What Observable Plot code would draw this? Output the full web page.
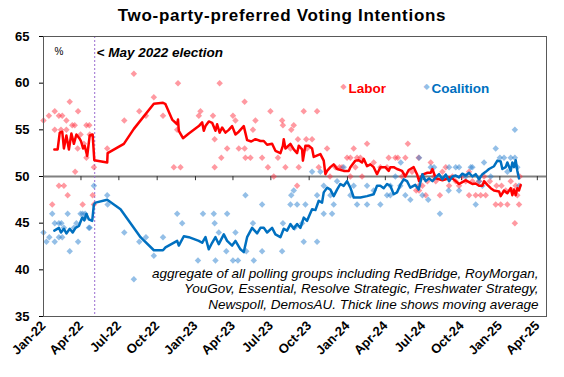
<!DOCTYPE html>
<html><head><meta charset="utf-8">
<script src="https://cdn.jsdelivr.net/npm/d3@7"></script>
<script src="https://cdn.jsdelivr.net/npm/@observablehq/plot@0.6"></script>
<style>
body{margin:0;background:#fff;font-family:Arial,"Liberation Sans",sans-serif;}
#title{height:30px;line-height:32px;text-align:center;font-weight:bold;font-size:17px;color:#000;letter-spacing:0.7px;}
svg{display:block}
</style></head><body>
<div id="title">Two-party-preferred Voting Intentions</div>
<div id="chart"></div>
<script>
const titleText = "Two-party-preferred Voting Intentions";
const seriesNames = ["Labor", "Coalition"];
const electionDate = "2022-05-04";
const electionLabel = "< May 2022 election";
const unitLabel = "%";
const noteText = "aggregate of all polling groups including RedBridge, RoyMorgan,\nYouGov, Essential, Resolve Strategic, Freshwater Strategy,\nNewspoll, DemosAU. Thick line shows moving average";
const xDomain = ["2022-01-01", "2025-04-23"];
const xTickDates = ["2022-01-01","2022-04-01","2022-07-01","2022-10-01","2023-01-01","2023-04-01","2023-07-01","2023-10-01","2024-01-01","2024-04-01","2024-07-01","2024-10-01","2025-01-01","2025-04-01"];
const yTicks = [35, 40, 45, 50, 55, 60, 65];

const laborAvg = [
["2022-01-27",52.9],["2022-02-04",52.9],["2022-02-09",54.7],["2022-02-15",54.8],["2022-02-19",53.0],["2022-02-25",54.4],["2022-03-03",52.9],["2022-03-09",54.6],["2022-03-15",53.5],["2022-03-21",54.5],["2022-03-28",54.1],["2022-04-01",53.8],["2022-04-06",53.0],["2022-04-10",53.3],["2022-04-16",52.2],["2022-04-22",54.4],["2022-04-29",54.5],["2022-05-03",51.75],["2022-06-03",51.5],["2022-06-04",52.5],["2022-07-13",53.5],["2022-08-06",55.1],["2022-09-23",57.8],["2022-10-15",57.9],["2022-10-21",57.75],["2022-11-06",56.1],["2022-11-18",55.6],["2022-11-20",56.1],["2022-11-22",54.9],["2022-12-02",54.1],["2022-12-16",54.6],["2023-01-09",55.4],["2023-01-17",55.8],["2023-01-21",54.9],["2023-01-25",55.4],["2023-02-02",55.9],["2023-02-10",55.75],["2023-02-18",54.9],["2023-02-22",55.6],["2023-02-28",54.7],["2023-03-06",55.25],["2023-03-14",54.7],["2023-03-22",55.0],["2023-03-30",55.4],["2023-04-07",54.5],["2023-04-15",54.8],["2023-04-27",55.4],["2023-05-05",53.9],["2023-05-15",53.75],["2023-05-25",54.0],["2023-06-06",53.8],["2023-06-14",53.8],["2023-06-22",53.4],["2023-07-04",53.5],["2023-07-12",52.75],["2023-07-24",52.5],["2023-07-30",53.3],["2023-08-01",54.0],["2023-08-05",53.0],["2023-08-17",53.5],["2023-08-25",52.9],["2023-09-02",52.5],["2023-09-06",53.3],["2023-09-14",52.9],["2023-09-16",51.7],["2023-09-22",53.3],["2023-09-30",53.3],["2023-10-08",53.0],["2023-10-12",52.1],["2023-10-28",52.4],["2023-11-05",51.7],["2023-11-09",50.25],["2023-11-13",50.6],["2023-11-21",51.0],["2023-11-29",51.3],["2023-12-07",50.8],["2023-12-23",50.6],["2024-01-04",50.6],["2024-01-08",51.0],["2024-01-20",51.7],["2024-01-28",51.75],["2024-02-05",51.5],["2024-02-09",51.9],["2024-02-17",51.1],["2024-02-25",51.3],["2024-03-04",51.0],["2024-03-12",50.25],["2024-03-20",51.0],["2024-04-01",51.0],["2024-04-09",50.6],["2024-04-13",51.0],["2024-04-21",51.0],["2024-04-29",50.8],["2024-05-11",50.6],["2024-05-19",50.0],["2024-05-27",50.7],["2024-06-08",51.0],["2024-06-16",50.25],["2024-06-21",49.5],["2024-06-29",50.2],["2024-07-11",50.4],["2024-07-19",50.4],["2024-07-23",50.8],["2024-07-31",49.8],["2024-08-08",49.7],["2024-08-16",49.6],["2024-08-24",49.7],["2024-09-01",49.9],["2024-09-09",49.8],["2024-09-17",49.5],["2024-09-25",49.2],["2024-10-03",49.4],["2024-10-11",49.6],["2024-10-19",49.4],["2024-10-27",49.2],["2024-11-04",49.25],["2024-11-12",49.0],["2024-11-20",49.0],["2024-11-24",49.5],["2024-12-02",49.1],["2024-12-10",48.75],["2024-12-18",48.5],["2024-12-30",48.4],["2025-01-03",47.9],["2025-01-11",48.5],["2025-01-19",48.2],["2025-01-27",48.75],["2025-01-31",48.0],["2025-02-04",48.6],["2025-02-08",48.0],["2025-02-12",48.75],["2025-02-16",48.5],["2025-02-20",49.1]
];

const coalitionAvg = [
["2022-01-27",44.2],["2022-02-07",44.5],["2022-02-12",44.0],["2022-02-19",44.4],["2022-02-25",43.9],["2022-03-05",44.4],["2022-03-12",44.0],["2022-03-19",44.5],["2022-03-27",44.7],["2022-04-04",45.6],["2022-04-09",45.3],["2022-04-14",46.0],["2022-04-20",45.4],["2022-04-28",45.25],["2022-05-02",47.0],["2022-05-06",47.2],["2022-06-03",47.5],["2022-07-05",46.5],["2022-08-22",43.5],["2022-09-23",42.1],["2022-10-15",42.1],["2022-10-21",42.4],["2022-11-18",43.1],["2022-11-22",42.6],["2022-12-04",43.6],["2022-12-16",43.5],["2023-01-09",43.1],["2023-01-17",42.9],["2023-01-25",43.5],["2023-02-02",42.2],["2023-02-10",42.9],["2023-02-18",43.5],["2023-02-26",42.75],["2023-03-10",43.8],["2023-03-18",43.1],["2023-03-30",42.6],["2023-04-07",43.1],["2023-04-19",42.2],["2023-04-27",41.9],["2023-05-05",43.5],["2023-05-17",44.5],["2023-05-29",43.9],["2023-06-06",44.5],["2023-06-14",44.5],["2023-06-22",44.0],["2023-07-04",44.5],["2023-07-12",43.8],["2023-07-24",43.5],["2023-08-01",44.4],["2023-08-09",44.2],["2023-08-17",44.9],["2023-08-25",44.4],["2023-09-02",44.9],["2023-09-10",44.5],["2023-09-18",45.6],["2023-09-26",45.25],["2023-10-04",46.1],["2023-10-08",46.5],["2023-10-16",46.4],["2023-10-24",47.4],["2023-11-01",47.2],["2023-11-05",48.3],["2023-11-13",48.8],["2023-11-21",48.6],["2023-11-29",47.9],["2023-12-07",48.6],["2023-12-15",49.2],["2023-12-23",49.0],["2023-12-31",49.5],["2024-01-08",48.8],["2024-01-16",47.75],["2024-02-01",47.75],["2024-02-17",47.9],["2024-03-04",48.1],["2024-03-12",49.0],["2024-03-20",49.0],["2024-03-28",48.75],["2024-04-05",49.2],["2024-04-13",49.0],["2024-04-21",48.1],["2024-04-29",48.3],["2024-05-07",49.1],["2024-05-15",49.7],["2024-05-23",49.5],["2024-05-31",48.8],["2024-06-12",49.1],["2024-06-20",48.6],["2024-06-29",50.25],["2024-07-07",49.5],["2024-07-15",49.8],["2024-07-23",49.5],["2024-07-31",49.9],["2024-08-08",50.25],["2024-08-16",49.7],["2024-08-24",50.2],["2024-09-01",49.5],["2024-09-09",50.0],["2024-09-17",50.1],["2024-09-25",49.9],["2024-10-03",50.3],["2024-10-11",50.1],["2024-10-19",50.4],["2024-10-27",50.0],["2024-11-04",50.25],["2024-11-12",49.7],["2024-11-20",50.25],["2024-11-28",50.5],["2024-12-06",50.8],["2024-12-18",51.1],["2024-12-26",51.7],["2025-01-03",51.6],["2025-01-07",50.8],["2025-01-15",51.0],["2025-01-19",51.5],["2025-01-27",50.6],["2025-01-31",51.5],["2025-02-04",51.0],["2025-02-08",51.75],["2025-02-12",50.6],["2025-02-16",49.8]
];

const laborPolls = [
["2022-01-01",56],["2022-01-14",56.5],["2022-01-22",47],["2022-01-28",57],["2022-01-28",55],["2022-02-07",56.5],["2022-02-07",49],["2022-02-12",55],["2022-02-15",56.5],["2022-02-19",49],["2022-02-25",56],["2022-02-25",55],["2022-02-28",48],["2022-03-05",58],["2022-03-11",55.5],["2022-03-17",55.5],["2022-03-18",50.5],["2022-03-24",53],["2022-03-25",57],["2022-03-31",54.5],["2022-04-05",47],["2022-04-08",53.5],["2022-04-14",55.5],["2022-04-14",52],["2022-04-21",55.5],["2022-04-22",54.5],["2022-04-29",48],["2022-05-02",51],["2022-05-02",47],["2022-06-03",53],["2022-07-14",56],["2022-08-06",61],["2022-08-19",57],["2022-09-04",56.5],["2022-09-23",58.5],["2022-10-15",56.5],
["2022-11-10",51],["2022-11-18",55],["2022-11-20",60],["2022-11-26",51],["2023-01-09",56.5],["2023-01-13",57],["2023-02-12",56.5],["2023-02-16",54],["2023-02-16",51],["2023-02-28",60],["2023-03-04",52],["2023-03-18",53],["2023-04-01",56.5],["2023-04-07",56],["2023-04-15",53],["2023-04-29",58],["2023-04-29",53],["2023-05-01",52],["2023-05-13",52],["2023-05-19",55],["2023-05-25",56],["2023-06-10",52],["2023-06-24",51],["2023-06-30",57],["2023-07-08",50],["2023-07-18",52],["2023-07-28",56],["2023-07-30",55.5],["2023-08-05",51],["2023-08-17",53],["2023-08-19",55],["2023-08-25",55.5],["2023-09-02",49],["2023-09-04",54],["2023-09-06",51],["2023-09-18",57],["2023-09-24",54],["2023-09-26",53],["2023-10-08",54],["2023-10-20",57],["2023-10-24",51],["2023-11-13",53],["2023-11-20",50],["2023-12-03",51],["2023-12-13",51],["2023-12-19",51],["2023-12-31",52],["2024-01-08",52],["2024-01-08",50],["2024-01-16",53],["2024-01-20",51],["2024-01-24",52],["2024-02-01",52],["2024-02-05",50],["2024-02-17",53.5],["2024-03-04",51.5],["2024-03-20",51],["2024-04-05",51],["2024-04-09",52],["2024-04-25",52],["2024-05-01",52],["2024-05-11",50],["2024-05-19",52],["2024-05-25",53.5],["2024-06-04",50.5],["2024-06-14",48.5],["2024-06-20",52],["2024-06-20",49],["2024-06-21",48.5],["2024-06-29",49],["2024-07-07",48],["2024-07-11",49.5],["2024-07-19",51.5],["2024-07-27",50],["2024-07-31",49.5],["2024-08-10",48],["2024-08-16",50.5],["2024-08-24",51],["2024-09-01",49],["2024-09-09",50],["2024-09-17",49.5],["2024-09-25",49],["2024-10-03",50],["2024-10-11",49.5],["2024-10-19",50.5],["2024-10-19",48],["2024-10-27",49.5],["2024-11-04",48],["2024-11-12",49.5],["2024-11-16",48],["2024-11-24",50],["2024-11-28",48],["2024-12-08",49.5],["2024-12-22",47],["2024-12-24",49],["2025-01-03",47],["2025-01-05",49],["2025-01-15",48.5],["2025-01-19",47],["2025-01-27",49.5],["2025-01-31",48.5],["2025-02-06",45],["2025-02-08",49],["2025-02-12",48],["2025-02-16",47],["2025-02-18",50]
];

const coalitionPolls = [
["2022-01-01",44],["2022-01-08",43],["2022-01-15",43.5],["2022-01-22",46],["2022-01-28",45],["2022-01-28",43],["2022-02-07",45],["2022-02-07",43.5],["2022-02-13",45],["2022-02-15",43.5],["2022-02-19",44.5],["2022-02-28",46],["2022-03-05",42],["2022-03-15",44.5],["2022-03-21",45],["2022-03-25",43],["2022-03-31",46],["2022-04-05",46],["2022-04-09",45.5],["2022-04-11",46],["2022-04-20",44.5],["2022-04-22",44.5],["2022-05-02",49],["2022-06-03",48],["2022-06-04",47],["2022-07-14",44],["2022-08-06",39],["2022-08-19",43],["2022-09-04",43.5],["2022-09-23",41.5],["2022-10-15",43.5],
["2022-11-18",46],["2022-11-30",45],["2023-01-07",41],["2023-01-19",46],["2023-02-14",46],["2023-02-16",45],["2023-02-18",41],["2023-02-26",44],["2023-03-16",42],["2023-03-18",46],["2023-04-01",41],["2023-04-07",44],["2023-04-13",41],["2023-05-01",48],["2023-05-03",42],["2023-05-19",45],["2023-05-21",41],["2023-06-10",47],["2023-06-10",42],["2023-07-28",42],["2023-07-30",45],["2023-08-17",47],["2023-08-19",48],["2023-08-25",48.5],["2023-08-27",44.5],["2023-09-02",47],["2023-09-14",45],["2023-09-18",43],["2023-09-22",47],["2023-10-08",50.5],["2023-10-20",43],["2023-10-20",48],["2023-10-28",50.5],["2023-11-05",46],["2023-11-05",49],["2023-11-21",48],["2023-11-25",46],["2023-11-29",47],["2023-12-07",49.5],["2023-12-23",51],["2024-01-08",48],["2024-01-16",49],["2024-01-24",47],["2024-02-17",49],["2024-02-17",47],["2024-03-04",48.5],["2024-03-20",47],["2024-04-05",48],["2024-04-13",49],["2024-04-13",48],["2024-04-25",50],["2024-05-07",49],["2024-05-08",51.5],["2024-05-19",48],["2024-05-31",47.5],["2024-06-21",52],["2024-06-29",48],["2024-07-13",47.5],["2024-07-19",51],["2024-07-27",51],["2024-08-10",46],["2024-08-24",50],["2024-08-31",48.5],["2024-09-01",51],["2024-09-17",51],["2024-09-25",51],["2024-09-25",48.5],["2024-10-11",50],["2024-10-23",51],["2024-10-27",51],["2024-11-04",47],["2024-11-12",49.5],["2024-11-20",49],["2024-11-24",51.5],["2024-12-10",50],["2024-12-22",53],["2025-01-01",52],["2025-01-11",52],["2025-01-19",50.5],["2025-01-27",52],["2025-02-06",52],["2025-02-06",55],["2025-02-12",51],["2025-02-16",49]
];

const parse = d3.utcParse("%Y-%m-%d");
const rows = arr => arr.map(([d, v]) => ({date: parse(d), value: v}));
const xTicks = xTickDates.map(parse);
const font = 'Arial, "Liberation Sans", sans-serif';
const laborColor = "#ff0000", coalColor = "#0070c0";

const chart = Plot.plot({
  width: 564, height: 347,
  marginLeft: 43, marginRight: 18, marginTop: 6, marginBottom: 61,
  style: {fontFamily: font, background: "white", color: "#000", overflow: "visible"},
  x: {type: "utc", domain: xDomain.map(parse)},
  y: {domain: [35, 65]},
  marks: [
    Plot.ruleY([50], {stroke: "#808080", strokeWidth: 2.2}),
    Plot.ruleX(xTicks, {y1: 50, y2: 49.55, stroke: "#333", strokeWidth: 1}),
    Plot.ruleX([parse(electionDate)], {stroke: "#9a6bd0", strokeDasharray: "2,2", strokeWidth: 1}),
    Plot.dot(rows(laborPolls), {x: "date", y: "value", symbol: "diamond2", r: 2.9, fill: "#ff3344", fillOpacity: 0.5, stroke: "none"}),
    Plot.dot(rows(coalitionPolls), {x: "date", y: "value", symbol: "diamond2", r: 2.9, fill: "#2a7fcf", fillOpacity: 0.5, stroke: "none"}),
    Plot.line(rows(laborAvg), {x: "date", y: "value", stroke: laborColor, strokeWidth: 2.5}),
    Plot.line(rows(coalitionAvg), {x: "date", y: "value", stroke: coalColor, strokeWidth: 2.5}),
    Plot.frame({stroke: "#595959"}),
    Plot.axisY({ticks: yTicks, tickSize: 4, tickPadding: 10, fontWeight: "bold", fontSize: 13, label: null}),
    Plot.axisX({ticks: xTicks, tickFormat: d3.utcFormat("%b-%y"), tickRotate: -45, tickSize: 0, tickPadding: 7, fontWeight: "bold", fontSize: 13, label: null}),
    Plot.text([unitLabel], {frameAnchor: "top-left", dx: 11, dy: 11, fontSize: 10, textAnchor: "start"}),
    Plot.text([electionLabel], {frameAnchor: "top-left", dx: 53, dy: 11, fontSize: 13.5, fontWeight: "bold", fontStyle: "italic", textAnchor: "start", letterSpacing: "1.1px"}),
    Plot.text(["◆"], {frameAnchor: "top-left", dx: 297, dy: 47, fontSize: 8, fill: "#ff3344", fillOpacity: 0.5, fontFamily: "DejaVu Sans"}),
    Plot.text([seriesNames[0]], {frameAnchor: "top-left", dx: 305, dy: 47, fontSize: 13.5, fontWeight: "bold", fill: laborColor, textAnchor: "start", letterSpacing: "0.9px"}),
    Plot.text(["◆"], {frameAnchor: "top-left", dx: 380, dy: 47, fontSize: 8, fill: "#2a7fcf", fillOpacity: 0.5, fontFamily: "DejaVu Sans"}),
    Plot.text([seriesNames[1]], {frameAnchor: "top-left", dx: 388, dy: 47, fontSize: 13.5, fontWeight: "bold", fill: coalColor, textAnchor: "start", letterSpacing: "0.9px"}),
    Plot.text([noteText], {frameAnchor: "bottom-right", dx: -8, dy: -8, lineAnchor: "bottom", lineHeight: 1.14, fontSize: 13.5, fontStyle: "italic", textAnchor: "end"})
  ]
});
document.getElementById("chart").append(chart);
</script>
</body></html>
